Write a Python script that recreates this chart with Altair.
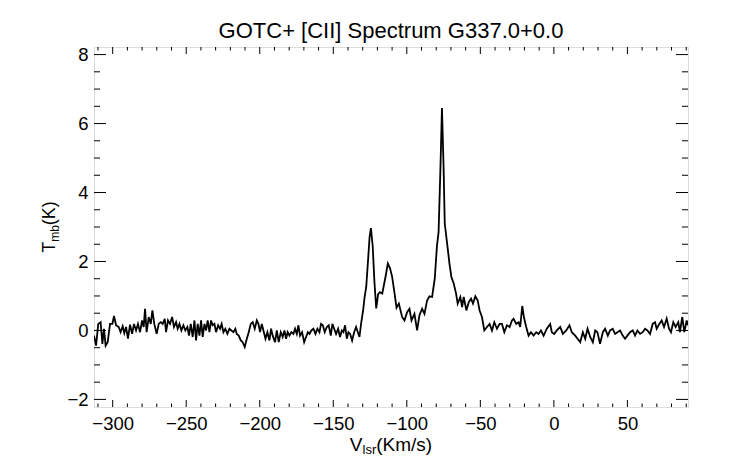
import altair as alt
import pandas as pd

# ---- data ----
v_lsr = [
    -312.7, -311.3, -309.8, -308.2, -307.0, -305.9, -304.8, -303.4, -301.8, -300.2,
    -299.1, -297.7, -295.9, -294.6, -293.2, -292.1, -290.9, -289.6, -288.2, -286.8,
    -285.5, -284.1, -282.8, -281.4, -280.0, -278.9, -278.0, -276.9, -275.5, -274.1,
    -273.0, -271.7, -270.1, -268.7, -267.3, -266.0, -264.6, -263.7, -262.4, -261.0,
    -259.6, -258.3, -256.9, -255.8, -254.6, -253.3, -251.9, -250.6, -249.2, -248.1,
    -246.9, -245.6, -244.4, -243.3, -242.2, -241.0, -239.9, -238.8, -237.6, -236.5,
    -235.4, -234.2, -233.1, -232.0, -230.8, -229.7, -228.3, -227.0, -225.9, -224.7,
    -223.4, -222.0, -220.6, -219.3, -217.9, -216.6, -215.6, -214.3, -212.9, -211.6,
    -210.2, -208.8, -207.5, -206.1, -204.8, -203.4, -202.0, -200.9, -199.8, -198.6,
    -197.5, -196.1, -194.8, -193.4, -192.3, -191.2, -189.6, -188.4, -187.1, -185.7,
    -184.4, -183.2, -182.1, -181.0, -179.8, -178.5, -177.1, -176.0, -174.8, -173.7,
    -172.6, -171.2, -169.8, -168.5, -167.3, -166.2, -164.9, -163.5, -162.1, -160.8,
    -159.4, -158.3, -157.1, -155.8, -154.4, -153.1, -151.7, -150.6, -149.4, -148.1,
    -146.7, -145.4, -144.2, -143.1, -142.0, -140.8, -139.7, -138.5, -137.2, -135.8,
    -134.5, -133.3, -132.2, -131.1, -129.6, -128.7, -127.6, -126.5, -125.3, -124.4,
    -123.2, -122.0, -120.8, -119.5, -118.3, -116.7, -114.5, -112.9, -111.4, -110.0,
    -108.3, -107.0, -105.4, -103.2, -101.6, -99.8, -98.2, -96.8, -94.8, -93.0,
    -91.4, -89.6, -88.0, -86.2, -84.6, -82.8, -81.0, -79.5, -78.4, -77.2,
    -76.1, -75.0, -74.2, -72.8, -71.0, -69.7, -68.1, -66.5, -65.4, -63.6,
    -62.4, -61.3, -59.5, -57.9, -56.3, -55.0, -53.4, -51.8, -50.5, -48.9,
    -47.3, -45.5, -43.7, -42.1, -40.5, -38.7, -36.9, -35.3, -33.7, -31.9,
    -30.1, -28.5, -27.4, -25.6, -24.0, -22.9, -21.5, -20.4, -18.8, -17.2,
    -15.6, -13.8, -12.0, -10.4, -8.8, -7.0, -4.8, -2.5, -1.4, 0.2,
    2.0, 4.3, 6.1, 8.4, 10.6, 12.2, 14.5, 16.1, 17.9, 19.7,
    21.3, 22.9, 24.7, 26.5, 28.1, 29.6, 31.4, 33.3, 34.8, 36.7,
    38.2, 40.0, 41.6, 43.2, 45.0, 46.8, 48.4, 50.0, 51.8, 53.6,
    55.2, 56.8, 58.6, 60.4, 62.0, 63.6, 65.4, 67.2, 68.8, 69.9,
    71.7, 73.3, 74.9, 76.7, 78.3, 79.6, 81.2, 82.8, 84.6, 85.7,
    87.3, 88.7, 90.3, 91.2,
]
t_mb = [
    -0.15, -0.44, 0.19, 0.24, -0.39, 0.05, -0.44, -0.34, 0.19, 0.19,
    0.42, 0.15, 0.10, -0.05, 0.12, -0.08, 0.10, -0.24, 0.17, -0.10,
    0.19, 0.00, 0.19, -0.05, 0.29, 0.10, 0.63, -0.05, 0.39, 0.19,
    0.58, 0.19, -0.10, 0.19, 0.24, 0.19, 0.34, -0.05, 0.29, 0.19,
    0.39, 0.10, 0.24, 0.05, 0.19, 0.00, 0.15, 0.00, 0.10, -0.15,
    0.19, -0.19, 0.29, -0.29, 0.19, -0.15, 0.29, -0.19, 0.19, 0.00,
    0.29, -0.05, 0.29, 0.15, 0.19, -0.05, 0.15, 0.05, 0.19, -0.05,
    0.05, -0.10, 0.05, 0.00, -0.05, 0.05, -0.10, -0.15, -0.29, -0.34,
    -0.48, -0.24, -0.05, 0.19, 0.24, 0.05, 0.29, 0.19, -0.05, 0.19,
    0.00, -0.24, -0.05, -0.29, 0.05, -0.15, -0.34, 0.00, -0.34, -0.05,
    -0.19, 0.00, -0.24, -0.05, -0.15, -0.05, -0.10, 0.05, -0.10, 0.15,
    -0.15, -0.05, -0.34, -0.19, -0.05, -0.10, 0.00, 0.05, -0.10, 0.05,
    -0.05, 0.19, 0.15, -0.05, 0.10, 0.15, -0.15, 0.19, 0.05, -0.10,
    0.05, -0.19, 0.00, -0.05, 0.15, -0.24, -0.05, -0.10, -0.29, -0.05,
    0.10, -0.05, -0.19, 0.19, 0.62, 0.97, 1.26, 1.94, 2.71, 2.97,
    2.45, 1.40, 0.64, 1.05, 1.11, 1.07, 1.55, 1.94, 1.80, 1.56,
    1.07, 0.66, 0.78, 0.39, 0.29, 0.53, 0.63, 0.29, 0.48, 0.00,
    0.44, 0.63, 0.48, 0.87, 0.99, 0.97, 1.50, 2.45, 2.85, 4.60,
    6.45, 4.75, 3.10, 2.60, 1.94, 1.55, 1.36, 1.07, 0.78, 0.97,
    0.68, 0.97, 0.58, 0.82, 0.92, 0.78, 0.99, 0.87, 0.58, 0.39,
    0.00, 0.10, 0.19, 0.00, 0.24, 0.05, 0.19, 0.19, -0.05, 0.15,
    0.10, 0.29, 0.34, 0.19, 0.24, 0.10, 0.71, 0.39, 0.10, -0.15,
    -0.05, -0.15, -0.05, -0.10, 0.00, -0.15, 0.05, 0.19, -0.05, -0.10,
    0.00, 0.10, -0.10, 0.00, 0.15, -0.05, -0.15, -0.24, -0.34, -0.05,
    -0.24, 0.05, -0.19, -0.34, 0.00, -0.05, -0.39, -0.05, 0.05, -0.15,
    0.00, 0.05, -0.10, -0.05, 0.00, -0.15, -0.24, -0.15, -0.05, 0.00,
    -0.15, 0.00, -0.10, -0.05, 0.05, 0.00, -0.10, 0.19, 0.24, 0.05,
    0.19, 0.29, 0.10, 0.34, 0.05, -0.05, 0.24, 0.10, 0.24, -0.05,
    0.39, -0.05, 0.29, 0.15,
]

x_major = [-300, -250, -200, -150, -100, -50, 0, 50]
x_minor = [-310, -290, -280, -270, -260, -240, -230, -220, -210, -190, -180, -170,
           -160, -140, -130, -120, -110, -90, -80, -70, -60, -40, -30, -20, -10,
           10, 20, 30, 40, 60, 70, 80, 90]
y_major = [-2, 0, 2, 4, 6, 8]
y_minor = [-1.5, -1, -0.5, 0.5, 1, 1.5, 2.5, 3, 3.5, 4.5, 5, 5.5, 6.5, 7, 7.5]

title_text = "GOTC+ [CII] Spectrum G337.0+0.0"

W, H = 594, 360
FONT = "Liberation Sans"

spec = pd.DataFrame({"v": v_lsr, "t": t_mb})
xs = alt.Scale(domain=[-312.7, 91.2], nice=False, zero=False)
ys = alt.Scale(domain=[-2.22, 8.22], nice=False, zero=False)
xaxis = alt.Axis(values=x_major, format="d", ticks=False, domain=False, grid=False,
                 labelFontSize=18.5, labelPadding=7, labelColor="black", title=None,
                 labelFont=FONT)
yaxis = alt.Axis(values=y_major, format="d", ticks=False, domain=False, grid=False,
                 labelFontSize=18.5, labelPadding=6, labelColor="black", title=None,
                 labelFont=FONT)

line = alt.Chart(spec).mark_line(color="black", strokeWidth=1.8, clip=True).encode(
    x=alt.X("v:Q", scale=xs, axis=xaxis),
    y=alt.Y("t:Q", scale=ys, axis=yaxis),
)

xmaj = pd.DataFrame({"v": x_major})
xmin = pd.DataFrame({"v": x_minor})
ymaj = pd.DataFrame({"t": y_major})
ymin = pd.DataFrame({"t": y_minor})

def xticks(df, length):
    bot = alt.Chart(df).mark_rule(color="black", strokeWidth=1).encode(
        x=alt.X("v:Q", scale=xs, axis=xaxis), y=alt.value(H), y2=alt.value(H - length))
    top = alt.Chart(df).mark_rule(color="black", strokeWidth=1).encode(
        x=alt.X("v:Q", scale=xs, axis=xaxis), y=alt.value(0), y2=alt.value(length))
    return [bot, top]

def yticks(df, length):
    left = alt.Chart(df).mark_rule(color="black", strokeWidth=1).encode(
        y=alt.Y("t:Q", scale=ys, axis=yaxis), x=alt.value(0), x2=alt.value(length))
    right = alt.Chart(df).mark_rule(color="black", strokeWidth=1).encode(
        y=alt.Y("t:Q", scale=ys, axis=yaxis), x=alt.value(W), x2=alt.value(W - length))
    return [left, right]

one = pd.DataFrame({"k": [0]})

def label(text, x, y, size, angle=0, align="left", baseline="alphabetic"):
    kw = dict(text=text, fontSize=size, font=FONT, color="black", align=align,
              baseline=baseline)
    if angle:
        kw["angle"] = angle
    return alt.Chart(one).mark_text(**kw).encode(x=alt.value(x), y=alt.value(y))

# x-axis title: V_lsr(Km/s)
F, f = 19, 13
xt_len = 3.611 * F + 1.055 * f
x0 = W / 2 - xt_len / 2
xt = [
    label("V", x0, 404, F),
    label("lsr", x0 + 0.667 * F, 407, f),
    label("(Km/s)", x0 + 0.667 * F + 1.055 * f, 404, F),
]
# y-axis title: T_mb(K), rotated
Fy, fy = 18, 12
yt_len = 1.944 * Fy + 1.389 * fy
y0 = H / 2 + yt_len / 2
yt = [
    label("T", -39, y0, Fy, angle=270),
    label("mb", -35, y0 - 0.611 * Fy, fy, angle=270),
    label("(K)", -39, y0 - 0.611 * Fy - 1.389 * fy, Fy, angle=270),
]
title = label(title_text, W / 2, -9, 22, align="center")

layers = [line] + xticks(xmaj, 7) + xticks(xmin, 3.5) + yticks(ymaj, 12) + yticks(ymin, 6) + xt + yt + [title]

chart = alt.layer(*layers).properties(
    width=W, height=H,
    autosize=alt.AutoSizeParams(type="none"),
    padding={"left": 86, "top": 39, "right": 40, "bottom": 49},
).configure_view(stroke="black", strokeWidth=1).configure(font=FONT, background="white")

chart.save("out.html", embed_options={"renderer": "svg", "actions": False})
